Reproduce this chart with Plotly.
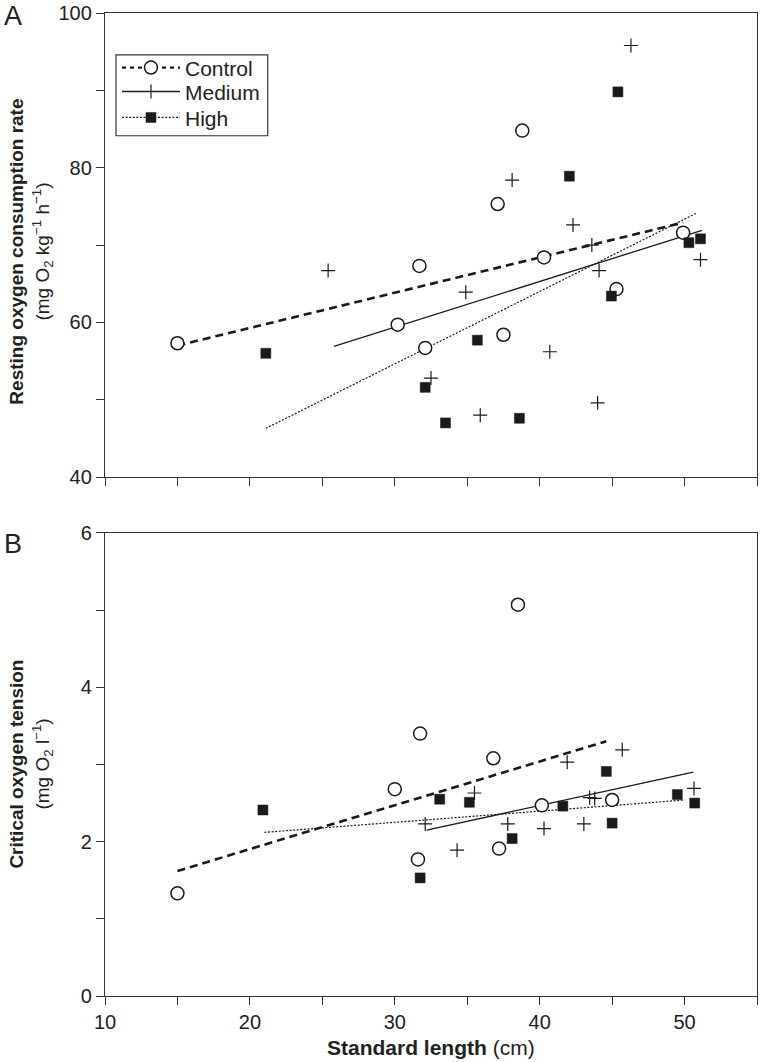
import plotly.graph_objects as go

# ---------------- data ----------------
# Panel A: resting oxygen consumption rate (mg O2 kg-1 h-1) vs standard length (cm)
a_control_x = [15.0, 30.2, 31.7, 32.1, 37.1, 37.5, 38.8, 40.3, 45.3, 49.9]
a_control_y = [57.3, 59.7, 67.3, 56.7, 75.3, 58.4, 84.8, 68.4, 64.3, 71.6]
a_medium_x = [25.4, 32.5, 34.9, 35.9, 38.1, 40.7, 42.3, 43.6, 44.0, 44.1, 46.3, 51.1]
a_medium_y = [66.7, 52.8, 63.9, 48.0, 78.4, 56.2, 72.6, 70.0, 49.6, 66.7, 95.8, 68.1]
a_high_x = [21.1, 32.1, 33.5, 35.7, 38.6, 42.05, 44.95, 45.4, 50.3, 51.1]
a_high_y = [56.0, 51.6, 47.0, 57.7, 47.6, 78.9, 63.4, 89.8, 70.3, 70.8]
a_control_fit_x = [15.0, 49.9]
a_control_fit_y = [57.0, 72.9]
a_medium_fit_x = [25.8, 51.2]
a_medium_fit_y = [56.9, 71.9]
a_high_fit_x = [21.1, 50.8]
a_high_fit_y = [46.3, 74.1]

# Panel B: critical oxygen tension (mg O2 l-1) vs standard length (cm)
b_control_x = [15.0, 30.0, 31.6, 31.75, 36.8, 37.2, 38.5, 40.15, 45.0]
b_control_y = [1.33, 2.68, 1.77, 3.40, 3.08, 1.91, 5.07, 2.47, 2.54]
b_medium_x = [32.1, 34.3, 35.5, 37.8, 40.3, 41.9, 43.05, 43.45, 43.8, 45.7, 50.65]
b_medium_y = [2.23, 1.89, 2.63, 2.23, 2.17, 3.03, 2.23, 2.57, 2.56, 3.19, 2.69]
b_high_x = [20.9, 31.75, 33.1, 35.15, 38.1, 41.6, 44.6, 45.0, 49.5, 50.7]
b_high_y = [2.41, 1.53, 2.55, 2.51, 2.04, 2.46, 2.91, 2.24, 2.61, 2.50]
b_control_fit_x = [15.0, 44.6]
b_control_fit_y = [1.62, 3.30]
b_medium_fit_x = [32.2, 50.6]
b_medium_fit_y = [2.15, 2.90]
b_high_fit_x = [21.0, 50.0]
b_high_fit_y = [2.12, 2.54]

group_names = ["Control", "Medium", "High"]

x_tickvals = [10, 15, 20, 25, 30, 35, 40, 45, 50, 55]
x_ticktext = ["10", "", "20", "", "30", "", "40", "", "50", ""]
a_y_tickvals = [40, 50, 60, 70, 80, 90, 100]
a_y_ticktext = ["40", "", "60", "", "80", "", "100"]
b_y_tickvals = [0, 1, 2, 3, 4, 5, 6]
b_y_ticktext = ["0", "", "2", "", "4", "", "6"]

# ---------------- layout helpers ----------------
W, H = 760, 1062
ML, MR, MT, MB = 105, 2, 11, 66
PW, PH = W - ML - MR, H - MT - MB


def pxx(p):
    return (p - ML) / PW


def pxy(p):
    return (H - MB - p) / PH


FONT = "Liberation Sans, Arial, sans-serif"
INK = "#1a1a1a"
AX = "#333333"

styles = {
    "Control": dict(line=dict(color=INK, width=2.6, dash="8px,5px"),
                    marker=dict(symbol="circle", size=13, color="white",
                                line=dict(color=INK, width=1.5))),
    "Medium": dict(line=dict(color=INK, width=1.3, dash="solid"),
                   marker=dict(symbol="cross-thin", size=10, color=INK,
                               line=dict(color=INK, width=1.2))),
    "High": dict(line=dict(color=INK, width=1.2, dash="2px,1.6px"),
                 marker=dict(symbol="square", size=10, color=INK,
                             line=dict(color=INK, width=0.5))),
}

fig = go.Figure()

panels = [
    ("x", "y", [(a_control_fit_x, a_control_fit_y), (a_medium_fit_x, a_medium_fit_y), (a_high_fit_x, a_high_fit_y)],
     [(a_control_x, a_control_y), (a_medium_x, a_medium_y), (a_high_x, a_high_y)]),
    ("x2", "y2", [(b_control_fit_x, b_control_fit_y), (b_medium_fit_x, b_medium_fit_y), (b_high_fit_x, b_high_fit_y)],
     [(b_control_x, b_control_y), (b_medium_x, b_medium_y), (b_high_x, b_high_y)]),
]

for xa, ya, fits, pts in panels:
    for name, (fx, fy) in zip(group_names, fits):
        fig.add_trace(go.Scatter(x=fx, y=fy, mode="lines", line=styles[name]["line"],
                                 xaxis=xa, yaxis=ya, showlegend=False, hoverinfo="skip"))
    for name, (px_, py_) in zip(group_names, pts):
        fig.add_trace(go.Scatter(x=px_, y=py_, mode="markers", marker=styles[name]["marker"],
                                 xaxis=xa, yaxis=ya, showlegend=False, name=name))

# legend entries (line + marker), one legend per row for tight spacing
legend_ids = ["legend", "legend2", "legend3"]
legend_rows = [66, 90, 116]
for name, lid in zip(group_names, legend_ids):
    lg_line = dict(styles[name]["line"])
    if name == "Control":
        lg_line = dict(color=INK, width=2.2, dash="4px,4px")
    fig.add_trace(go.Scatter(x=[None], y=[None], mode="lines+markers", name=name,
                             line=lg_line, marker=styles[name]["marker"],
                             xaxis="x", yaxis="y", showlegend=True, legend=lid))

axis_common = dict(
    showline=True, linecolor=AX, linewidth=1.3, mirror=True,
    ticks="outside", ticklen=8, tickwidth=1.3, tickcolor=AX,
    showgrid=False, zeroline=False,
    tickfont=dict(family=FONT, size=20, color="#222"),
)


def legend_at(row_y):
    return dict(x=pxx(117), y=pxy(row_y), xanchor="left", yanchor="middle",
                bgcolor="rgba(0,0,0,0)", borderwidth=0,
                font=dict(family=FONT, size=21, color="#222"),
                itemwidth=58, tracegroupgap=0)


fig.update_layout(
    width=W, height=H,
    margin=dict(l=ML, r=MR, t=MT, b=MB),
    paper_bgcolor="white", plot_bgcolor="white",
    font=dict(family=FONT, color="#222"),
    xaxis=dict(axis_common, domain=[0, 1], anchor="y", range=[10, 55],
               tickmode="array", tickvals=x_tickvals, ticktext=[""] * len(x_tickvals)),
    yaxis=dict(axis_common, domain=[pxy(476), 1], anchor="x", range=[40, 100],
               tickmode="array", tickvals=a_y_tickvals, ticktext=a_y_ticktext),
    xaxis2=dict(axis_common, domain=[0, 1], anchor="y2", range=[10, 55],
                tickmode="array", tickvals=x_tickvals, ticktext=x_ticktext),
    yaxis2=dict(axis_common, domain=[0, pxy(532)], anchor="x2", range=[0, 6],
                tickmode="array", tickvals=b_y_tickvals, ticktext=b_y_ticktext),
    legend=legend_at(legend_rows[0]),
    legend2=legend_at(legend_rows[1]),
    legend3=legend_at(legend_rows[2]),
    showlegend=True,
    shapes=[dict(type="rect", xref="paper", yref="paper",
                 x0=pxx(116), x1=pxx(268), y0=pxy(134), y1=pxy(53),
                 line=dict(color=AX, width=1.2), fillcolor="rgba(0,0,0,0)", layer="above")],
)


def label(text, x, y, size, angle=0):
    return dict(text=text, x=pxx(x), y=pxy(y), xref="paper", yref="paper",
                xanchor="center", yanchor="middle", textangle=angle, showarrow=False,
                font=dict(family=FONT, size=size, color="#222"))


ann = [
    label("A", 13, 14, 27),
    label("B", 13, 543, 27),
    label("<b>Resting oxygen consumption rate</b>", 16, 250, 19, -90),
    label("(mg O<sub>2</sub> kg<sup>\u22121</sup> h<sup>\u22121</sup>)", 42, 250, 19, -90),
    label("<b>Critical oxygen tension</b>", 16, 764, 19, -90),
    label("(mg O<sub>2</sub> l<sup>\u22121</sup>)", 42, 764, 19, -90),
    label("<b>Standard length</b> (cm)", 431, 1048, 21),
]
fig.update_layout(annotations=ann)

fig.write_html("out.html", config={"displayModeBar": False},
               post_script="document.body.style.margin='0px';")
